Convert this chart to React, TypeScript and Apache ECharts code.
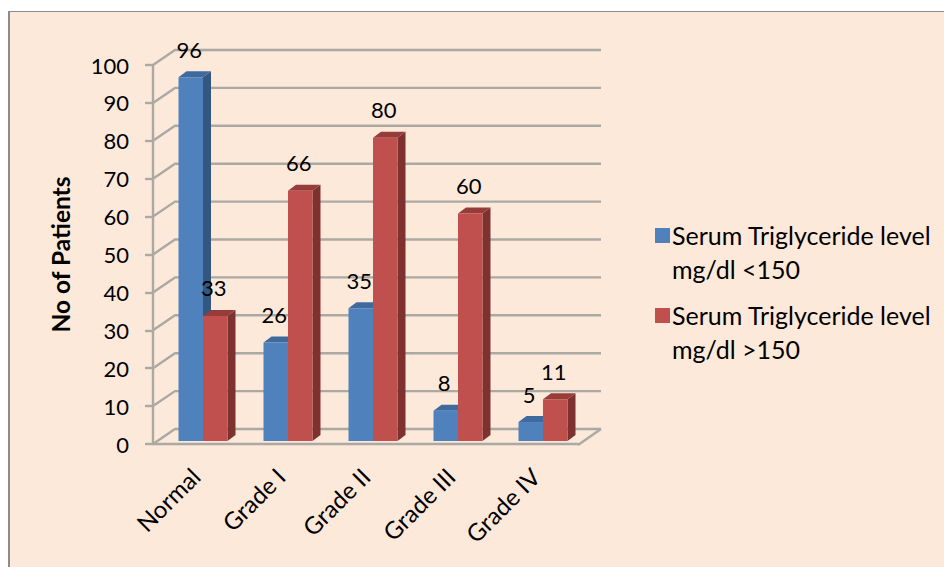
import React, { useEffect, useRef } from "react";
import * as echarts from "echarts";

const categories = ["Normal", "Grade I", "Grade II", "Grade III", "Grade IV"];
const below150 = [96, 26, 35, 8, 5];
const above150 = [33, 66, 80, 60, 11];
const seriesNames = ["Serum Triglyceride level\nmg/dl <150", "Serum Triglyceride level\nmg/dl >150"];
const yTicks = [0, 10, 20, 30, 40, 50, 60, 70, 80, 90, 100];
const yAxisTitle = "No of Patients";

const FONT = "Lato";
const GRID_COLOR = "#ABA9A3";

const wallItem = (params: any, api: any) => {
  const v = api.value(0);
  const start = api.coord([0, v]);
  const left = params.coordSys.x;
  const right = left + params.coordSys.width;
  const y = start[1];
  const children: any[] = [];
  children.push({
    type: "polyline",
    shape: { points: [[left, y], [left + 22, y - 15], [right + 23, y - 15]] },
    style: { stroke: GRID_COLOR, lineWidth: 2.4, fill: "none" },
  });
  if (v === 0) {
    children.push({
      type: "polyline",
      shape: { points: [[right, y + 1], [right + 23, y - 15]] },
      style: { stroke: GRID_COLOR, lineWidth: 2.4, fill: "none" },
    });
  }
  return { type: "group", children };
};

const barItem = (side: number, front: string, top: string, dark: string) => (params: any, api: any) => {
  const cat = api.value(0);
  const val = api.value(1);
  const t = api.coord([cat, val]);
  const b = api.coord([cat, 0]);
  const w = 24.5;
  const cx = t[0] + 7.5;
  const x0 = side === 0 ? cx - w : cx;
  const x1 = x0 + w;
  const yt = t[1] - 3;
  const yb = b[1] - 3;
  const dx = 8;
  const dy = 6;
  return {
    type: "group",
    children: [
      {
        type: "polygon",
        shape: { points: [[x1, yt], [x1 + dx, yt - dy], [x1 + dx, yb - dy], [x1, yb]] },
        style: { fill: dark },
      },
      {
        type: "polygon",
        shape: { points: [[x0, yt], [x0 + dx, yt - dy], [x1 + dx, yt - dy], [x1, yt]] },
        style: { fill: top },
      },
      { type: "rect", shape: { x: x0, y: yt, width: w, height: yb - yt }, style: { fill: front } },
      {
        type: "text",
        z2: 50,
        style: {
          x: (x0 + x1) / 2 - 1.5,
          y: yt - 28,
          text: String(val),
          fontFamily: FONT,
          fontSize: 22,
          fill: "#000",
          align: "center",
          verticalAlign: "middle",
        },
      },
    ],
  };
};

export default function App() {
  const ref = useRef<HTMLDivElement>(null);
  useEffect(() => {
    const chart = echarts.init(ref.current!, undefined, { renderer: "svg" });
    chart.setOption({
      animation: false,
      backgroundColor: "#FFFFFF",
      textStyle: { fontFamily: FONT },
      graphic: [
        { type: "rect", z: -1, shape: { x: 9, y: 11, width: 935, height: 556 }, style: { fill: "#FDE9DA" } },
        { type: "line", z: -1, shape: { x1: 9, y1: 11.5, x2: 944, y2: 11.5 }, style: { stroke: "#8C8C8C", lineWidth: 1 } },
        { type: "line", z: -1, shape: { x1: 9, y1: 11, x2: 9, y2: 567 }, style: { stroke: "#8C8C8C", lineWidth: 2 } },
      ],
      grid: { left: 153, top: 65, width: 425, height: 379 },
      xAxis: {
        type: "category",
        data: categories,
        axisLine: { onZero: false, lineStyle: { color: GRID_COLOR, width: 2.4 } },
        axisTick: { alignWithLabel: false, length: 7, lineStyle: { color: "#8C8C8C", width: 1.5 } },
        axisLabel: { rotate: 45, margin: 28, color: "#000", fontFamily: FONT, fontSize: 24, interval: 0 },
      },
      yAxis: {
        type: "value",
        min: 0,
        max: 100,
        interval: 10,
        name: yAxisTitle,
        nameLocation: "middle",
        nameGap: 80,
        nameTextStyle: { color: "#000", fontWeight: "bold", fontFamily: FONT, fontSize: 24.5 },
        axisLine: { show: true, lineStyle: { color: GRID_COLOR, width: 2.4 } },
        axisTick: { show: true, length: 8, lineStyle: { color: GRID_COLOR, width: 2.4 } },
        axisLabel: { margin: 24, color: "#000", fontFamily: FONT, fontSize: 22 },
        splitLine: { show: false },
      },
      legend: {
        orient: "vertical",
        left: 650,
        top: 213,
        itemWidth: 15,
        itemHeight: 68,
        itemGap: 12,
        selectedMode: false,
        icon: "path://M0 0L0 68L0 0ZM0 10H15V25H0Z",
        textStyle: { color: "#000", fontFamily: FONT, fontSize: 25, lineHeight: 34, padding: [0, 0, 0, -3] },
        data: seriesNames,
      },
      series: [
        {
          type: "custom",
          name: "walls",
          z: 1,
          silent: true,
          coordinateSystem: "cartesian2d",
          data: yTicks.map((v) => [v]),
          encode: { y: 0 },
          renderItem: wallItem,
        },
        {
          type: "custom",
          name: seriesNames[0],
          z: 2,
          itemStyle: { color: "#4F81BD" },
          data: below150.map((v, i) => [i, v]),
          encode: { x: 0, y: 1 },
          renderItem: barItem(0, "#4F81BD", "#3E6A9E", "#33577F"),
        },
        {
          type: "custom",
          name: seriesNames[1],
          z: 3,
          itemStyle: { color: "#C0504D" },
          data: above150.map((v, i) => [i, v]),
          encode: { x: 0, y: 1 },
          renderItem: barItem(1, "#C0504D", "#963C3A", "#7D3230"),
        },
      ],
    });
    return () => chart.dispose();
  }, []);
  return <div ref={ref} style={{ position: "fixed", left: 0, top: 0, width: 944, height: 567 }} />;
}
